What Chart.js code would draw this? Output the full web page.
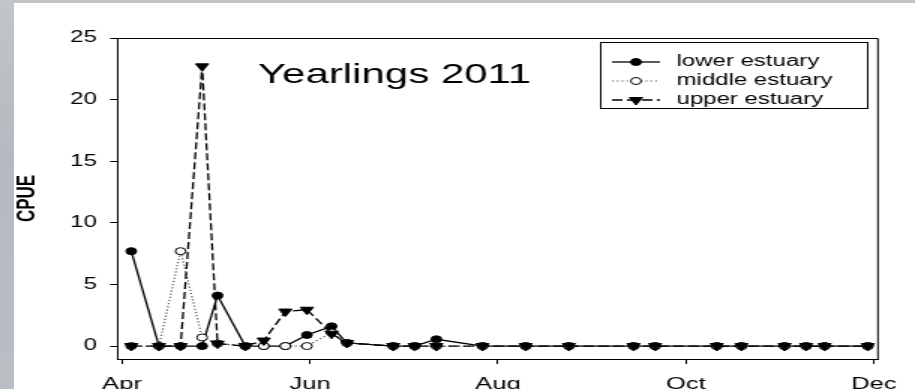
<!DOCTYPE html>
<html>
<head>
<meta charset="utf-8">
<script src="https://cdn.jsdelivr.net/npm/chart.js@4.4.1/dist/chart.umd.min.js"></script>
<style>
  html, body { margin: 0; padding: 0; }
  body {
    width: 915px; height: 389px; overflow: hidden; position: relative;
    background: linear-gradient(180deg, #c2c5c8 0px, #b4bac2 40%, #b9bec5 100%);
  }
  #panel { position: absolute; left: 14px; top: 3px; right: 0; bottom: 0; background: #fff; }
  #cpueChart { position: absolute; left: 0; top: 0; }
</style>
</head>
<body>
<div id="panel"></div>
<!-- drawn at 610 wide and stretched out to the slide width -->
<canvas id="cpueChart" width="610" height="389" style="width:915px;height:389px"></canvas>
<script>
// sampling dates (2011, month-day)
const sampleDates = ['04-04', '04-13', '04-20', '04-27', '05-02', '05-11', '05-17', '05-24', '05-31',
    '06-08', '06-13', '06-28', '07-05', '07-12', '07-27', '08-10', '08-24', '09-14', '09-21',
    '10-11', '10-19', '11-02', '11-09', '11-15', '11-29'];

// CPUE per station group
const lowerEstuary  = [7.7, 0, 0, 0, 4.1, 0, 0, 0, 0.9, 1.6, 0.25, 0, 0, 0.55, 0, 0, 0, 0, 0, 0, 0, 0, 0, 0, 0];
const middleEstuary = [0, 0, 7.7, 0.7, 0.2, 0, 0, 0, 0, 1.1, 0.25, 0, 0, 0, 0, 0, 0, 0, 0, 0, 0, 0, 0, 0, 0];
const upperEstuary  = [0, 0, 0, 22.7, 0.2, 0, 0.45, 2.8, 2.95, 1.0, 0.25, 0, 0, 0, 0, 0, 0, 0, 0, 0, 0, 0, 0, 0, 0];

const monthTicks  = ['04-01', '06-01', '08-01', '10-01', '12-01'];
const monthLabels = ['Apr', 'Jun', 'Aug', 'Oct', 'Dec'];
const cpueTicks   = [0, 5, 10, 15, 20, 25];

const FONT = '"Liberation Sans", Arial, Helvetica, sans-serif';
Chart.defaults.font.family = FONT;
Chart.defaults.color = '#000';

// days since April 1st
function seasonDay(md) {
    const [m, d] = md.split('-').map(Number);
    return (Date.UTC(2011, m - 1, d) - Date.UTC(2011, 3, 1)) / 86400000;
}

function toPoints(values) {
    return sampleDates.map((d, i) => ({ x: seasonDay(d), y: values[i] }));
}

// top/right frame, title and the boxed legend inside the plot
const frameLegend = {
    id: 'frameLegend',
    afterDraw(chart) {
        const { ctx, chartArea: a } = chart;
        ctx.save();
        ctx.strokeStyle = '#000';
        ctx.lineWidth = 1;
        ctx.beginPath();
        ctx.moveTo(a.left, a.top + 0.5);
        ctx.lineTo(a.right, a.top + 0.5);
        ctx.lineTo(a.right, a.bottom);
        ctx.stroke();

        ctx.fillStyle = '#000';
        ctx.font = '28px ' + FONT;
        ctx.textBaseline = 'alphabetic';
        ctx.fillText('Yearlings 2011', 172, 83);

        ctx.strokeRect(400.5, 42.5, 178, 66);
        ctx.font = '16px ' + FONT;
        ctx.textBaseline = 'middle';
        chart.data.datasets.forEach((ds, i) => {
            const y = 62 + i * 19;
            ctx.setLineDash(ds.borderDash || []);
            ctx.strokeStyle = ds.borderColor;
            ctx.lineWidth = ds.borderWidth;
            ctx.beginPath();
            ctx.moveTo(408, y);
            ctx.lineTo(440, y);
            ctx.stroke();
            ctx.setLineDash([]);
            ctx.fillStyle = ds.pointBackgroundColor;
            ctx.strokeStyle = ds.pointBorderColor;
            ctx.lineWidth = 1;
            Chart.helpers.drawPoint(ctx, {
                pointStyle: ds.pointStyle,
                rotation: ds.pointRotation || 0,
                radius: ds.pointRadius,
                borderWidth: 1
            }, 424, y);
            ctx.fillStyle = '#000';
            ctx.fillText(ds.label, 451, y);
        });
        ctx.restore();
    }
};

const ctx = document.getElementById('cpueChart').getContext('2d');

new Chart(ctx, {
    type: 'line',
    data: {
        datasets: [{
            label: 'lower estuary',
            data: toPoints(lowerEstuary),
            order: 3,
            borderColor: '#000',
            borderWidth: 1.3,
            pointStyle: 'circle',
            pointRadius: 3.5,
            pointBackgroundColor: '#000',
            pointBorderColor: '#000',
            pointBorderWidth: 1
        }, {
            label: 'middle estuary',
            data: toPoints(middleEstuary),
            order: 2,
            borderColor: '#555',
            borderWidth: 1.2,
            borderDash: [1.2, 2],
            pointStyle: 'circle',
            pointRadius: 3.5,
            pointBackgroundColor: '#fff',
            pointBorderColor: '#000',
            pointBorderWidth: 1
        }, {
            label: 'upper estuary',
            data: toPoints(upperEstuary),
            order: 1,
            borderColor: '#000',
            borderWidth: 1.3,
            borderDash: [7, 3],
            pointStyle: 'triangle',
            pointRotation: 180,
            pointRadius: 5,
            pointBackgroundColor: '#000',
            pointBorderColor: '#000',
            pointBorderWidth: 1
        }]
    },
    options: {
        responsive: false,
        animation: false,
        events: [],
        layout: { padding: { top: 38, right: 24.7, left: 0, bottom: 0 } },
        plugins: {
            legend: { display: false },
            tooltip: { enabled: false }
        },
        scales: {
            x: {
                type: 'linear',
                min: -1.3,
                max: 245.3,
                afterBuildTicks: axis => { axis.ticks = monthTicks.map(m => ({ value: seasonDay(m) })); },
                afterFit: axis => { axis.height = 30; },
                ticks: {
                    callback: (v, i) => monthLabels[i],
                    autoSkip: false,
                    maxRotation: 0,
                    padding: 10.5,
                    font: { size: 17 }
                },
                grid: { drawOnChartArea: false, tickLength: 5, color: '#000' },
                border: { color: '#000', width: 1 }
            },
            y: {
                min: -1.05,
                max: 25,
                afterBuildTicks: axis => { axis.ticks = cpueTicks.map(v => ({ value: v })); },
                afterFit: axis => { axis.width = 78.67; },
                ticks: { padding: 8.7, font: { size: 16 } },
                grid: { drawOnChartArea: false, tickLength: 5.3, color: '#000' },
                border: { color: '#000', width: 1 },
                title: {
                    display: true,
                    text: 'CPUE',
                    font: { size: 17, weight: 'bold' },
                    padding: { top: 7.8, bottom: 0 }
                }
            }
        }
    },
    plugins: [frameLegend]
});
</script>
</body>
</html>
